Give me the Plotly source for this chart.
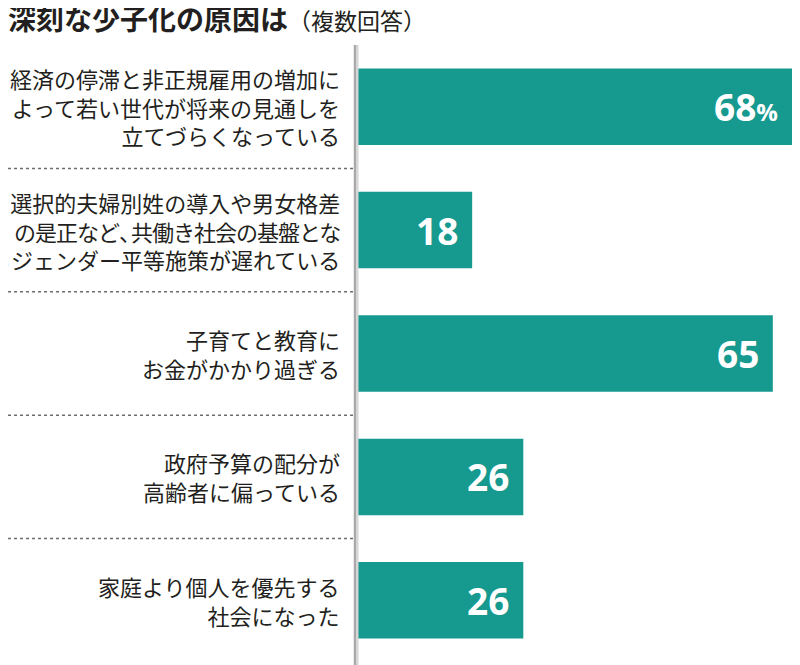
import plotly.graph_objects as go

# survey answers, top to bottom
labels = [
    "経済の停滞と非正規雇用の増加に<br>よって若い世代が将来の見通しを<br>立てづらくなっている",
    "選択的夫婦別姓の導入や男女格差<br><span style='letter-spacing:-1px'>の是正など"
    "<span style='letter-spacing:-10px'>、</span>共働き社会の基盤とな</span>"
    "<br>るジェンダー平等施策が遅れている",
    "子育てと教育に<br>お金がかかり過ぎる",
    "政府予算の配分が<br>高齢者に偏っている",
    "家庭より個人を優先する<br>社会になった",
]
values = [68, 18, 65, 26, 26]
value_text = ["68<span style='font-size:24px'>%</span>", "18", "65", "26", "26"]

TEAL = "#16998e"
JP_FONT = "Noto Sans CJK JP"
NUM_FONT = "Open Sans, sans-serif"

# the page body adds an 8px margin, so the figure is drawn 8px smaller
W, H = 792, 657
L, R, T, B = 349, 8, 37, 3
plot_w = W - L - R

keys = [f"c{i}" for i in range(len(labels))]

fig = go.Figure(
    go.Bar(
        x=values,
        y=keys,
        orientation="h",
        marker={"color": TEAL, "line": {"width": 0}},
        width=0.62,
        hoverinfo="skip",
    )
)

# category labels, right aligned left of the axis line
for key, lab in zip(keys, labels):
    fig.add_annotation(
        x=0, xref="paper", xshift=-15, xanchor="right",
        y=key, yref="y", yanchor="middle",
        text=lab, align="right", showarrow=False,
        font={"family": JP_FONT, "size": 22, "color": "#231f20"},
    )

# values inside the bars
for key, v, t in zip(keys, values, value_text):
    fig.add_annotation(
        x=v, xref="x", xshift=-12, xanchor="right",
        y=key, yref="y", yanchor="middle",
        text=f"<b>{t}</b>", showarrow=False,
        font={"family": NUM_FONT, "size": 37, "color": "white"},
    )

# dotted separators between rows
for i in range(len(labels) - 1):
    fig.add_shape(
        type="line", xref="paper", yref="y",
        x0=-L / plot_w, x1=-3 / plot_w, y0=i + 0.5, y1=i + 0.5,
        line={"color": "#6d6d6d", "width": 1.5, "dash": "dot"},
    )

# grey axis line with a soft shadow
fig.add_shape(
    type="line", xref="paper", yref="paper",
    x0=-1 / plot_w, x1=-1 / plot_w, y0=-0.01, y1=1,
    line={"color": "#d6d6d6", "width": 5},
)
fig.add_shape(
    type="line", xref="paper", yref="paper",
    x0=-2 / plot_w, x1=-2 / plot_w, y0=-0.01, y1=1,
    line={"color": "#a9a9a9", "width": 2},
)

fig.update_layout(
    width=W,
    height=H,
    margin={"l": L, "r": R, "t": T, "b": B},
    paper_bgcolor="white",
    plot_bgcolor="white",
    showlegend=False,
    title={
        "text": "<b>深刻な少子化の原因は</b><span style='font-size:23px'>（複数回答）</span>",
        "x": 0, "xanchor": "left", "xref": "container",
        "y": 1 - 12 / H, "yanchor": "middle", "yref": "container",
        "font": {"family": JP_FONT, "size": 28, "color": "#231f20"},
    },
    xaxis={"range": [0, 68], "visible": False, "fixedrange": True},
    yaxis={
        "autorange": "reversed",
        "showticklabels": False,
        "showgrid": False,
        "zeroline": False,
        "fixedrange": True,
    },
)

fig.write_html("out.html", config={"displayModeBar": False})
